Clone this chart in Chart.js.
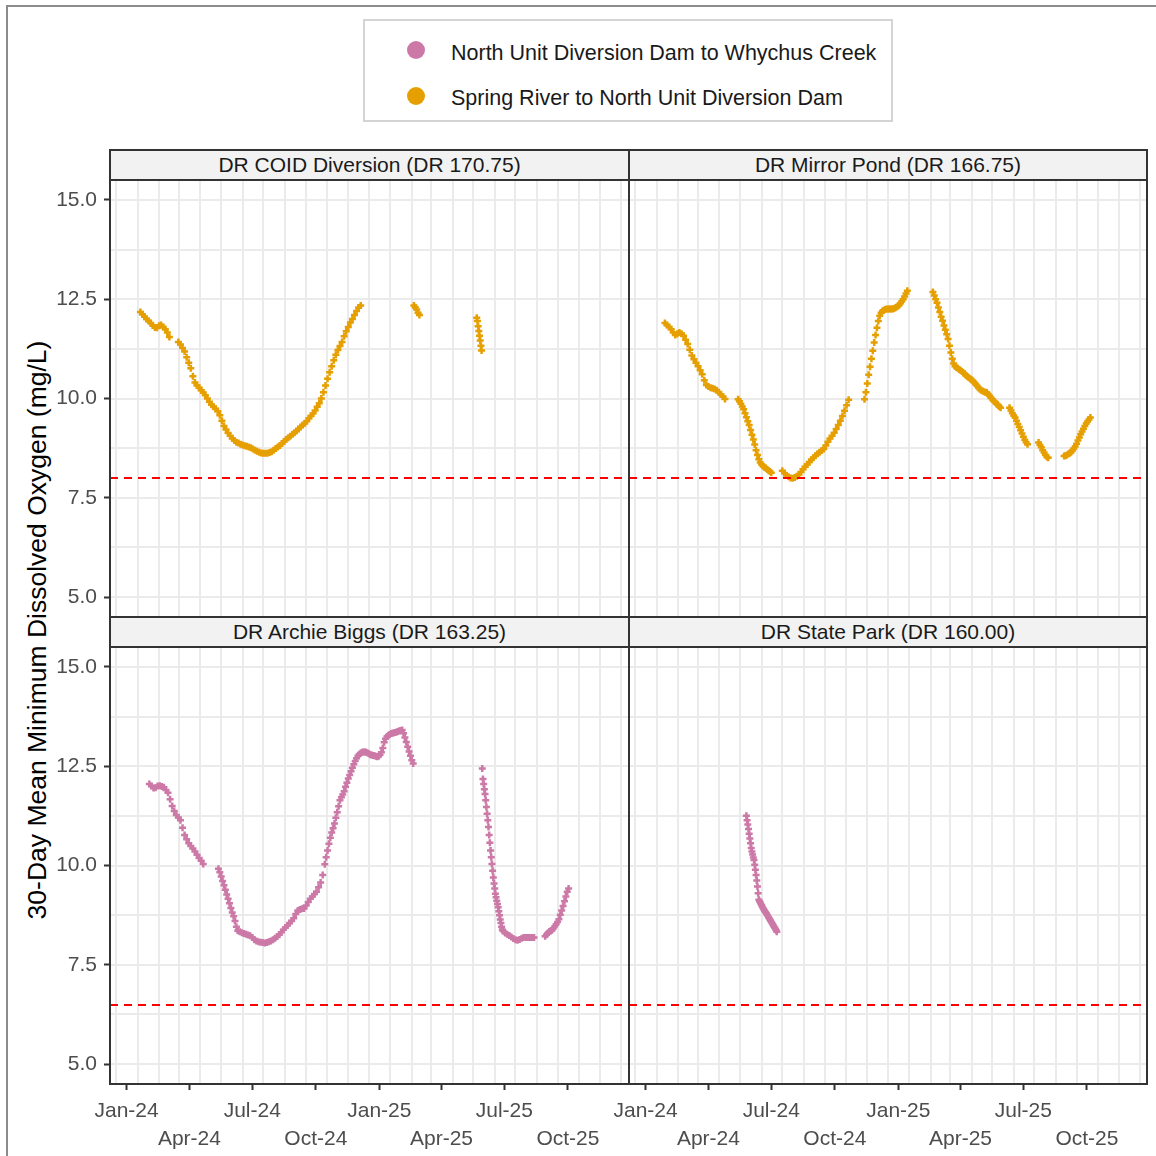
<!DOCTYPE html>
<html>
<head>
<meta charset="utf-8">
<title>30-Day Mean Minimum Dissolved Oxygen</title>
<script src="https://cdn.jsdelivr.net/npm/chart.js@4.4.1/dist/chart.umd.min.js"></script>
<style>
  html, body { margin: 0; padding: 0; background: #fff; }
  body { width: 1156px; height: 1156px; position: relative; overflow: hidden; font-family: "Liberation Sans", Arial, sans-serif; }
  .frame { position: absolute; left: 6px; top: 5px; width: 1170px; height: 1170px; border-left: 2px solid #8c8c8c; border-top: 2px solid #8c8c8c; }
  .legend { position: absolute; left: 363px; top: 19px; width: 530px; height: 103px; box-sizing: border-box; border: 2px solid #d4d4d4; }
  .key { position: absolute; left: 42px; width: 18px; height: 18px; border-radius: 50%; }
  .key-label { position: absolute; left: 86px; font-size: 21.5px; line-height: 24px; color: #1a1a1a; white-space: nowrap; }
  .strip { position: absolute; height: 32px; box-sizing: border-box; border: 2px solid #333; background: #f2f2f2; text-align: center; font-size: 21px; line-height: 28px; color: #1a1a1a; white-space: nowrap; }
  .box { position: absolute; box-sizing: border-box; border: 2px solid #333; pointer-events: none; z-index: 2; }
  canvas { position: absolute; }
  .ytitle { position: absolute; left: 37px; top: 630px; transform: translate(-50%, -50%) rotate(-90deg); font-size: 26.5px; color: #000; white-space: nowrap; }
</style>
</head>
<body>
<div class="frame"></div>

<div class="legend">
  <div class="key" style="top:20px;background:#CC79A7"></div>
  <div class="key-label" style="top:20px">North Unit Diversion Dam to Whychus Creek</div>
  <div class="key" style="top:66px;background:#E69F00"></div>
  <div class="key-label" style="top:65px">Spring River to North Unit Diversion Dam</div>
</div>

<div class="ytitle">30-Day Mean Minimum Dissolved Oxygen (mg/L)</div>

<div class="strip" style="left:109px;top:149px;width:521px">DR COID Diversion (DR 170.75)</div>
<div class="strip" style="left:628px;top:149px;width:520px">DR Mirror Pond (DR 166.75)</div>
<div class="strip" style="left:109px;top:616px;width:521px">DR Archie Biggs (DR 163.25)</div>
<div class="strip" style="left:628px;top:616px;width:520px">DR State Park (DR 160.00)</div>

<div class="box" style="left:109px;top:179px;width:521px;height:439px"></div>
<div class="box" style="left:628px;top:179px;width:520px;height:439px"></div>
<div class="box" style="left:109px;top:646px;width:521px;height:439px"></div>
<div class="box" style="left:628px;top:646px;width:520px;height:439px"></div>

<canvas id="coid" width="598" height="437" style="left:30px;top:180px"></canvas>
<canvas id="mirror" width="518" height="437" style="left:629px;top:180px"></canvas>
<canvas id="archie" width="598" height="512" style="left:30px;top:647px"></canvas>
<canvas id="statePark" width="558" height="512" style="left:589px;top:647px"></canvas>

<script>
// Each run: [first date, days between readings, 30-day mean minimum DO (mg/L)]
const coidRuns = [
  ['2024-01-21', 3, [12.18, 12.12, 12.06, 12.00, 11.95, 11.90, 11.84, 11.79, 11.78, 11.83, 11.85, 11.80, 11.74, 11.66, 11.55]],
  ['2024-03-16', 3, [11.42, 11.36, 11.27, 11.18, 11.04, 10.90, 10.76, 10.56, 10.40, 10.33, 10.27, 10.21, 10.15, 10.08, 10.00,
                     9.92, 9.84, 9.79, 9.74, 9.68, 9.58, 9.44, 9.31, 9.22, 9.13, 9.06, 8.99, 8.94, 8.90, 8.88,
                     8.85, 8.83, 8.81, 8.80, 8.78, 8.76, 8.73, 8.70, 8.67, 8.65, 8.63, 8.62, 8.62, 8.62, 8.64,
                     8.66, 8.70, 8.74, 8.78, 8.82, 8.87, 8.92, 8.97, 9.01, 9.05, 9.10, 9.14, 9.18, 9.23, 9.28,
                     9.33, 9.38, 9.43, 9.50, 9.56, 9.62, 9.70, 9.79, 9.88, 10.00, 10.16, 10.33, 10.50, 10.66, 10.81,
                     10.96, 11.10, 11.22, 11.32, 11.42, 11.57, 11.69, 11.80, 11.91, 12.00, 12.10, 12.20, 12.29, 12.34]],
  ['2025-02-20', 2, [12.34, 12.30, 12.24, 12.16, 12.10]],
  ['2025-05-22', 1, [12.03, 11.95, 11.82, 11.70, 11.58, 11.46, 11.33, 11.21]]
];

const mirrorRuns = [
  ['2024-01-29', 3, [11.90, 11.85, 11.80, 11.74, 11.66, 11.60, 11.63, 11.66, 11.63, 11.58, 11.48, 11.37, 11.23, 11.08, 10.99,
                     10.90, 10.81, 10.71, 10.61, 10.46, 10.34, 10.30, 10.27, 10.26, 10.24, 10.21, 10.16, 10.11, 10.05, 9.99]],
  ['2024-05-14', 2, [9.98, 9.93, 9.87, 9.80, 9.73, 9.63, 9.53, 9.43, 9.33, 9.21, 9.09, 8.97, 8.84, 8.70, 8.58,
                     8.47, 8.39, 8.34, 8.30, 8.27, 8.25, 8.22, 8.19, 8.16, 8.13]],
  ['2024-07-17', 3, [8.18, 8.12, 8.07, 8.03, 8.00, 7.99, 8.01, 8.04, 8.09, 8.15, 8.22, 8.28, 8.34, 8.40, 8.46,
                     8.51, 8.56, 8.61, 8.65, 8.69, 8.73, 8.82, 8.91, 8.99, 9.06, 9.14, 9.23, 9.33, 9.44, 9.56,
                     9.69, 9.83, 9.97]],
  ['2024-11-13', 2, [9.98, 10.16, 10.38, 10.60, 10.80, 11.00, 11.20, 11.41, 11.60, 11.78, 11.95, 12.08, 12.16, 12.20, 12.22,
                     12.24, 12.25, 12.25, 12.25, 12.25, 12.25, 12.26, 12.28, 12.30, 12.32, 12.35, 12.40, 12.45, 12.50, 12.57,
                     12.64, 12.71]],
  ['2025-02-20', 2, [12.68, 12.59, 12.50, 12.41, 12.29, 12.18, 12.06, 11.96, 11.84, 11.73, 11.62, 11.50, 11.33, 11.16, 11.00,
                     10.88, 10.81, 10.78, 10.76, 10.73, 10.71, 10.68, 10.65, 10.62, 10.58, 10.55, 10.52, 10.50, 10.47, 10.44,
                     10.40, 10.36, 10.32, 10.27, 10.23, 10.21, 10.19, 10.17, 10.16, 10.15, 10.11, 10.07, 10.02, 9.98, 9.94,
                     9.91, 9.87, 9.84, 9.80, 9.77]],
  ['2025-06-11', 2, [9.77, 9.70, 9.63, 9.57, 9.52, 9.44, 9.36, 9.28, 9.20, 9.12, 9.04, 8.96, 8.90, 8.85]],
  ['2025-07-23', 2, [8.89, 8.83, 8.77, 8.70, 8.64, 8.58, 8.53, 8.51]],
  ['2025-08-29', 2, [8.55, 8.56, 8.58, 8.60, 8.62, 8.65, 8.69, 8.74, 8.79, 8.86, 8.94, 9.02, 9.10, 9.17, 9.24,
                     9.31, 9.37, 9.42, 9.47, 9.52]]
];

const archieRuns = [
  ['2024-02-03', 3, [12.05, 12.00, 11.95, 11.96, 12.00, 12.01, 11.99, 11.97, 11.90, 11.83, 11.67, 11.50, 11.37, 11.27, 11.21,
                     11.14, 10.95, 10.77, 10.66, 10.56, 10.49, 10.43, 10.35, 10.27, 10.19, 10.12, 10.04]],
  ['2024-05-13', 2, [9.92, 9.83, 9.72, 9.61, 9.50, 9.39, 9.27, 9.16, 9.05, 8.93, 8.82, 8.72, 8.60, 8.46, 8.36]],
  ['2024-06-13', 3, [8.33, 8.31, 8.29, 8.27, 8.25, 8.23, 8.19, 8.13, 8.10, 8.08, 8.07, 8.06, 8.05, 8.06, 8.08,
                     8.10, 8.13, 8.17, 8.21, 8.26, 8.32, 8.38, 8.44, 8.49, 8.55, 8.60, 8.67, 8.78, 8.87, 8.89,
                     8.91, 8.92, 8.99, 9.08, 9.16, 9.22, 9.28, 9.34, 9.45, 9.57, 9.76, 10.03]],
  ['2024-10-16', 2, [10.21, 10.38, 10.55, 10.70, 10.83, 10.94, 11.06, 11.20, 11.34, 11.49, 11.64, 11.72, 11.79, 11.87, 11.98,
                     12.08, 12.19, 12.28, 12.37, 12.46, 12.55, 12.63, 12.70, 12.76, 12.80, 12.83, 12.85, 12.86, 12.86, 12.85,
                     12.83, 12.81, 12.79, 12.78, 12.77, 12.76, 12.75, 12.74, 12.75, 12.79, 12.85, 12.96, 13.10, 13.19, 13.25,
                     13.28, 13.30, 13.32, 13.33, 13.34, 13.35, 13.36, 13.37, 13.39, 13.40, 13.41, 13.33, 13.22, 13.11, 12.99,
                     12.87, 12.76, 12.65, 12.57]],
  ['2025-05-30', 1, [12.44, 12.18, 12.05, 11.92, 11.80, 11.64, 11.47, 11.30, 11.14, 10.97, 10.77, 10.57, 10.38, 10.21, 10.04,
                     9.87, 9.70, 9.55, 9.42, 9.29, 9.20, 9.11, 9.03, 8.95, 8.85, 8.75, 8.64, 8.55, 8.46, 8.39,
                     8.35]],
  ['2025-07-02', 3, [8.30, 8.27, 8.24, 8.20, 8.16, 8.13, 8.12, 8.14, 8.17, 8.19, 8.19, 8.19, 8.19, 8.19, 8.19]],
  ['2025-08-29', 2, [8.22, 8.26, 8.30, 8.34, 8.35, 8.37, 8.42, 8.47, 8.52, 8.58, 8.65, 8.76, 8.87, 8.98, 9.10,
                     9.22, 9.34, 9.42]]
];

const stateParkRuns = [
  ['2024-05-26', 1, [11.25, 11.14, 11.03, 10.92, 10.80, 10.68, 10.56, 10.44, 10.35, 10.28, 10.20, 10.14, 10.02, 9.89, 9.76,
                     9.62, 9.47, 9.30, 9.14, 9.10, 9.07, 9.03, 9.00, 8.96, 8.93, 8.90, 8.87, 8.84, 8.82, 8.79,
                     8.76, 8.73, 8.70, 8.67, 8.64, 8.61, 8.58, 8.55, 8.52, 8.49, 8.46, 8.43, 8.40, 8.37, 8.33]]
];

// DO criteria per reach (mg/L)
const upperCriterion = 8.0;
const lowerCriterion = 6.5;

const xTickDates = ['2024-01-01', '2024-04-01', '2024-07-01', '2024-10-01', '2025-01-01', '2025-04-01', '2025-07-01', '2025-10-01'];
const xTickLabels = ['Jan-24', 'Apr-24', 'Jul-24', 'Oct-24', 'Jan-25', 'Apr-25', 'Jul-25', 'Oct-25'];
const yTicks = [5.0, 7.5, 10.0, 12.5, 15.0];

const PINK = '#CC79A7';
const ORANGE = '#E69F00';
const FONT = '"Liberation Sans", Arial, sans-serif';

// days since 2024-01-01, so the x axis can stay linear (no date adapter)
const origin = Date.UTC(2024, 0, 1);
function dayOf(s) {
  const p = s.split('-').map(Number);
  return (Date.UTC(p[0], p[1] - 1, p[2]) - origin) / 864e5;
}

function toPoints(runs) {
  const pts = [];
  runs.forEach(([start, step, values]) => {
    const d0 = dayOf(start);
    values.forEach((v, i) => pts.push({ x: d0 + i * step, y: v }));
  });
  return pts;
}

const xMin = dayOf('2023-12-08');
const xMax = dayOf('2025-12-27');

// vertical grid falls mid-month
const gridDays = [];
for (let y = 2023, m = 11; ; m++) {
  if (m > 11) { m = 0; y++; }
  if (y === 2026) break;
  gridDays.push((Date.UTC(y, m, 17) - origin) / 864e5);
}
const gridValues = [5, 6.25, 7.5, 8.75, 10, 11.25, 12.5, 13.75, 15];

const panelGrid = {
  id: 'panelGrid',
  beforeDatasetsDraw(chart) {
    const { ctx, chartArea: a, scales: { x, y } } = chart;
    ctx.save();
    ctx.beginPath();
    ctx.rect(a.left, a.top, a.right - a.left, a.bottom - a.top);
    ctx.clip();
    ctx.strokeStyle = '#ebebeb';
    ctx.lineWidth = 2;
    gridValues.forEach(v => {
      const py = Math.round(y.getPixelForValue(v));
      ctx.beginPath(); ctx.moveTo(a.left, py); ctx.lineTo(a.right, py); ctx.stroke();
    });
    gridDays.forEach(d => {
      const px = Math.round(x.getPixelForValue(d));
      ctx.beginPath(); ctx.moveTo(px, a.top); ctx.lineTo(px, a.bottom); ctx.stroke();
    });
    ctx.restore();
  }
};

function criterionLine(value) {
  return {
    id: 'criterionLine',
    afterDatasetsDraw(chart) {
      const { ctx, chartArea: a, scales: { y } } = chart;
      const py = Math.round(y.getPixelForValue(value));
      ctx.save();
      ctx.strokeStyle = '#ff0000';
      ctx.lineWidth = 2;
      ctx.setLineDash([8, 6]);
      ctx.beginPath(); ctx.moveTo(a.left, py); ctx.lineTo(a.right, py); ctx.stroke();
      ctx.restore();
    }
  };
}

// fixed axis sizes, and no extra room for half-labels at the ends
function fixSize(axis, shown, prop, size) {
  axis[prop] = shown ? size : 0;
  axis.paddingTop = 0;
  axis.paddingBottom = 0;
  axis.paddingLeft = 0;
  axis.paddingRight = 0;
}

function drawPanel(canvasId, runs, color, criterion, showY, showX, padLeft) {
  new Chart(document.getElementById(canvasId), {
    type: 'scatter',
    data: {
      datasets: [{
        data: toPoints(runs),
        pointStyle: 'cross',
        pointRadius: 3.5,
        pointBorderWidth: 2.5,
        borderColor: color,
        backgroundColor: color
      }]
    },
    options: {
      responsive: false,
      animation: false,
      events: [],
      layout: { autoPadding: false, padding: { left: padLeft, right: 0, top: 0, bottom: 0 } },
      plugins: { legend: { display: false }, tooltip: { enabled: false } },
      scales: {
        x: {
          type: 'linear',
          min: xMin,
          max: xMax,
          display: showX,
          border: { display: false },
          grid: { drawOnChartArea: false, drawTicks: true, tickLength: 6, tickWidth: 2, tickColor: '#333' },
          afterBuildTicks: axis => { axis.ticks = xTickDates.map(d => ({ value: dayOf(d) })); },
          afterFit: axis => fixSize(axis, showX, 'height', 75),
          ticks: {
            autoSkip: false,
            maxRotation: 0,
            minRotation: 0,
            padding: 7,
            color: '#4d4d4d',
            font: { family: FONT, size: 21, lineHeight: 28 / 21 },
            callback: (v, i) => i % 2 === 0 ? [xTickLabels[i], ''] : ['', xTickLabels[i]]
          }
        },
        y: {
          type: 'linear',
          min: 4.5,
          max: 15.5,
          display: showY,
          border: { display: false },
          grid: { drawOnChartArea: false, drawTicks: true, tickLength: 6, tickWidth: 2, tickColor: '#333' },
          afterBuildTicks: axis => { axis.ticks = yTicks.map(v => ({ value: v })); },
          afterFit: axis => fixSize(axis, showY, 'width', 80),
          ticks: {
            padding: 7,
            color: '#4d4d4d',
            font: { family: FONT, size: 21 },
            callback: v => Number(v).toFixed(1)
          }
        }
      }
    },
    plugins: [panelGrid, criterionLine(criterion)]
  });
}

drawPanel('coid', coidRuns, ORANGE, upperCriterion, true, false, 0);
drawPanel('mirror', mirrorRuns, ORANGE, upperCriterion, false, false, 0);
drawPanel('archie', archieRuns, PINK, lowerCriterion, true, true, 0);
// extra room on the left so the first date label is not cut off
drawPanel('statePark', stateParkRuns, PINK, lowerCriterion, false, true, 40);
</script>
</body>
</html>
